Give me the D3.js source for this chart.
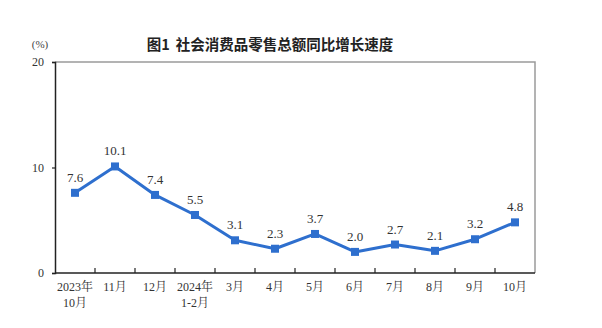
<!DOCTYPE html>
<html>
<head>
<meta charset="utf-8">
<script src="https://cdn.jsdelivr.net/npm/d3@7/dist/d3.min.js"></script>
<style>
  html, body { margin: 0; padding: 0; background: #fff; }
  svg { display: block; }
</style>
</head>
<body>
<svg id="chart" width="602" height="328"></svg>
<script>
// Month labels (two-line where needed) and year-on-year growth (%)
const categories = ["2023年|10月", "11月", "12月", "2024年|1-2月", "3月", "4月", "5月", "6月", "7月", "8月", "9月", "10月"];
const values = [7.6, 10.1, 7.4, 5.5, 3.1, 2.3, 3.7, 2.0, 2.7, 2.1, 3.2, 4.8];
const yTicks = [0, 10, 20];
const titleNo = "图1";
const title = "社会消费品零售总额同比增长速度";
const unit = "(%)";

const svg = d3.select("#chart");
const m = { left: 55, right: 535, top: 62, bottom: 273 };
const serif = "'Liberation Serif', 'Times New Roman', 'Noto Serif CJK SC', 'Noto Sans CJK SC', serif";
const lineColor = "#2e6fce";

const x = d3.scaleBand().domain(categories).range([m.left, m.right]).padding(0);
const y = d3.scaleLinear().domain([0, 20]).range([m.bottom, m.top]);
const cx = d => x(d) + x.bandwidth() / 2;

// Title and unit
const t = svg.append("text")
  .attr("x", 270).attr("y", 50)
  .attr("text-anchor", "middle")
  .attr("font-family", "'Noto Sans CJK SC', sans-serif")
  .attr("font-weight", "bold")
  .attr("font-size", 14.5)
  .attr("fill", "#222");
t.append("tspan").text(titleNo);
t.append("tspan").attr("dx", 6).text(title);

svg.append("text")
  .attr("x", 40).attr("y", 48)
  .attr("text-anchor", "middle")
  .attr("font-family", serif)
  .attr("font-size", 11)
  .attr("fill", "#444")
  .text(unit);

// Frame: top and right in grey
svg.append("path")
  .attr("d", `M${m.left},${m.top}H${m.right}V${m.bottom}`)
  .attr("fill", "none").attr("stroke", "#9a9a9a").attr("stroke-width", 1.5);

// Y axis
const yAxis = svg.append("g")
  .attr("transform", `translate(${m.left},0)`)
  .call(d3.axisLeft(y).tickValues(yTicks).tickSize(3).tickPadding(8).tickFormat(d3.format("d")));
yAxis.select(".domain").attr("stroke", "#222").attr("stroke-width", 1.5);
yAxis.selectAll(".tick line").attr("stroke", "#222").attr("stroke-width", 1.2);
yAxis.selectAll(".tick text")
  .attr("font-family", serif).attr("font-size", 12).attr("fill", "#333");

// X axis with inward ticks at the band boundaries
const xAxis = svg.append("g").attr("transform", `translate(0,${m.bottom})`);
xAxis.append("line")
  .attr("x1", m.left).attr("x2", m.right)
  .attr("stroke", "#222").attr("stroke-width", 1.5);
xAxis.selectAll("line.tk")
  .data(categories.slice(1))
  .join("line")
  .attr("class", "tk")
  .attr("x1", d => x(d)).attr("x2", d => x(d))
  .attr("y1", 0).attr("y2", -5)
  .attr("stroke", "#222").attr("stroke-width", 1.2);

const lab = xAxis.selectAll("text.cat")
  .data(categories)
  .join("text")
  .attr("class", "cat")
  .attr("text-anchor", "middle")
  .attr("font-family", serif)
  .attr("font-size", 12)
  .attr("fill", "#333");
lab.each(function (d) {
  const parts = d.split("|");
  const el = d3.select(this);
  parts.forEach((p, i) => {
    el.append("tspan").attr("x", cx(d)).attr("y", 18 + i * 16).text(p);
  });
});

// Line and markers
svg.append("path")
  .datum(values)
  .attr("fill", "none")
  .attr("stroke", lineColor)
  .attr("stroke-width", 3)
  .attr("stroke-linejoin", "round")
  .attr("d", d3.line().x((d, i) => cx(categories[i])).y(d => y(d)));

svg.selectAll("rect.pt")
  .data(values)
  .join("rect")
  .attr("class", "pt")
  .attr("x", (d, i) => cx(categories[i]) - 4)
  .attr("y", d => y(d) - 4)
  .attr("width", 8).attr("height", 8)
  .attr("fill", lineColor);

// Value labels
svg.selectAll("text.val")
  .data(values)
  .join("text")
  .attr("class", "val")
  .attr("x", (d, i) => cx(categories[i]))
  .attr("y", d => y(d) - 11)
  .attr("text-anchor", "middle")
  .attr("font-family", serif)
  .attr("font-size", 13)
  .attr("fill", "#333")
  .text(d => d3.format(".1f")(d));
</script>
</body>
</html>
